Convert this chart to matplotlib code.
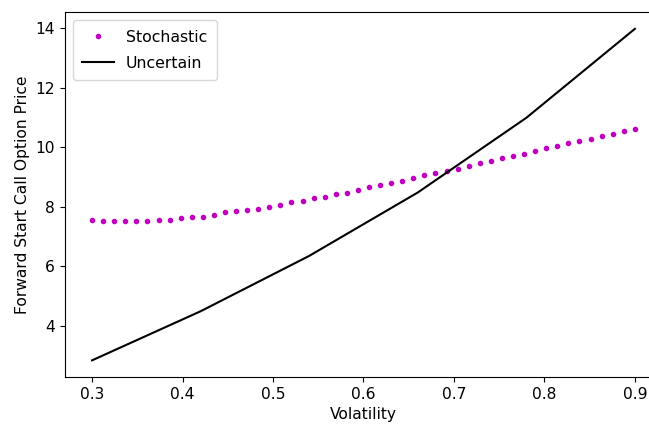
import numpy as np
from matplotlib import pyplot as plt

vol_stoch = np.linspace(0.3, 0.9, 50)
price_stoch = [7.56, 7.52, 7.52, 7.52, 7.52, 7.53, 7.57, 7.57, 7.62, 7.66,
               7.66, 7.71, 7.81, 7.85, 7.89, 7.94, 8.01, 8.07, 8.16, 8.20,
               8.28, 8.33, 8.42, 8.48, 8.56, 8.65, 8.73, 8.80, 8.88, 8.96,
               9.06, 9.15, 9.21, 9.28, 9.37, 9.46, 9.55, 9.64, 9.70, 9.79,
               9.88, 9.97, 10.06, 10.13, 10.22, 10.28, 10.37, 10.46, 10.55, 10.63]

vol_unc = [0.3, 0.42, 0.54, 0.66, 0.78, 0.9]
price_unc = [2.84, 4.49, 6.35, 8.48, 10.99, 13.98]

plt.rcParams['font.size'] = 11.2

fig = plt.figure(figsize=(6.49, 4.24), dpi=100)
ax = fig.add_axes([0.100, 0.111, 0.920, 0.860])

ax.plot(vol_stoch, price_stoch, 'm.', label='Stochastic')
ax.plot(vol_unc, price_unc, 'k-', label='Uncertain')
ax.set_xlabel('Volatility')
ax.set_ylabel('Forward Start Call Option Price')
ax.legend(loc='upper left', fontsize=11.3, labelspacing=0.7, borderpad=0.6)

fig.savefig('out.png', dpi=100)
